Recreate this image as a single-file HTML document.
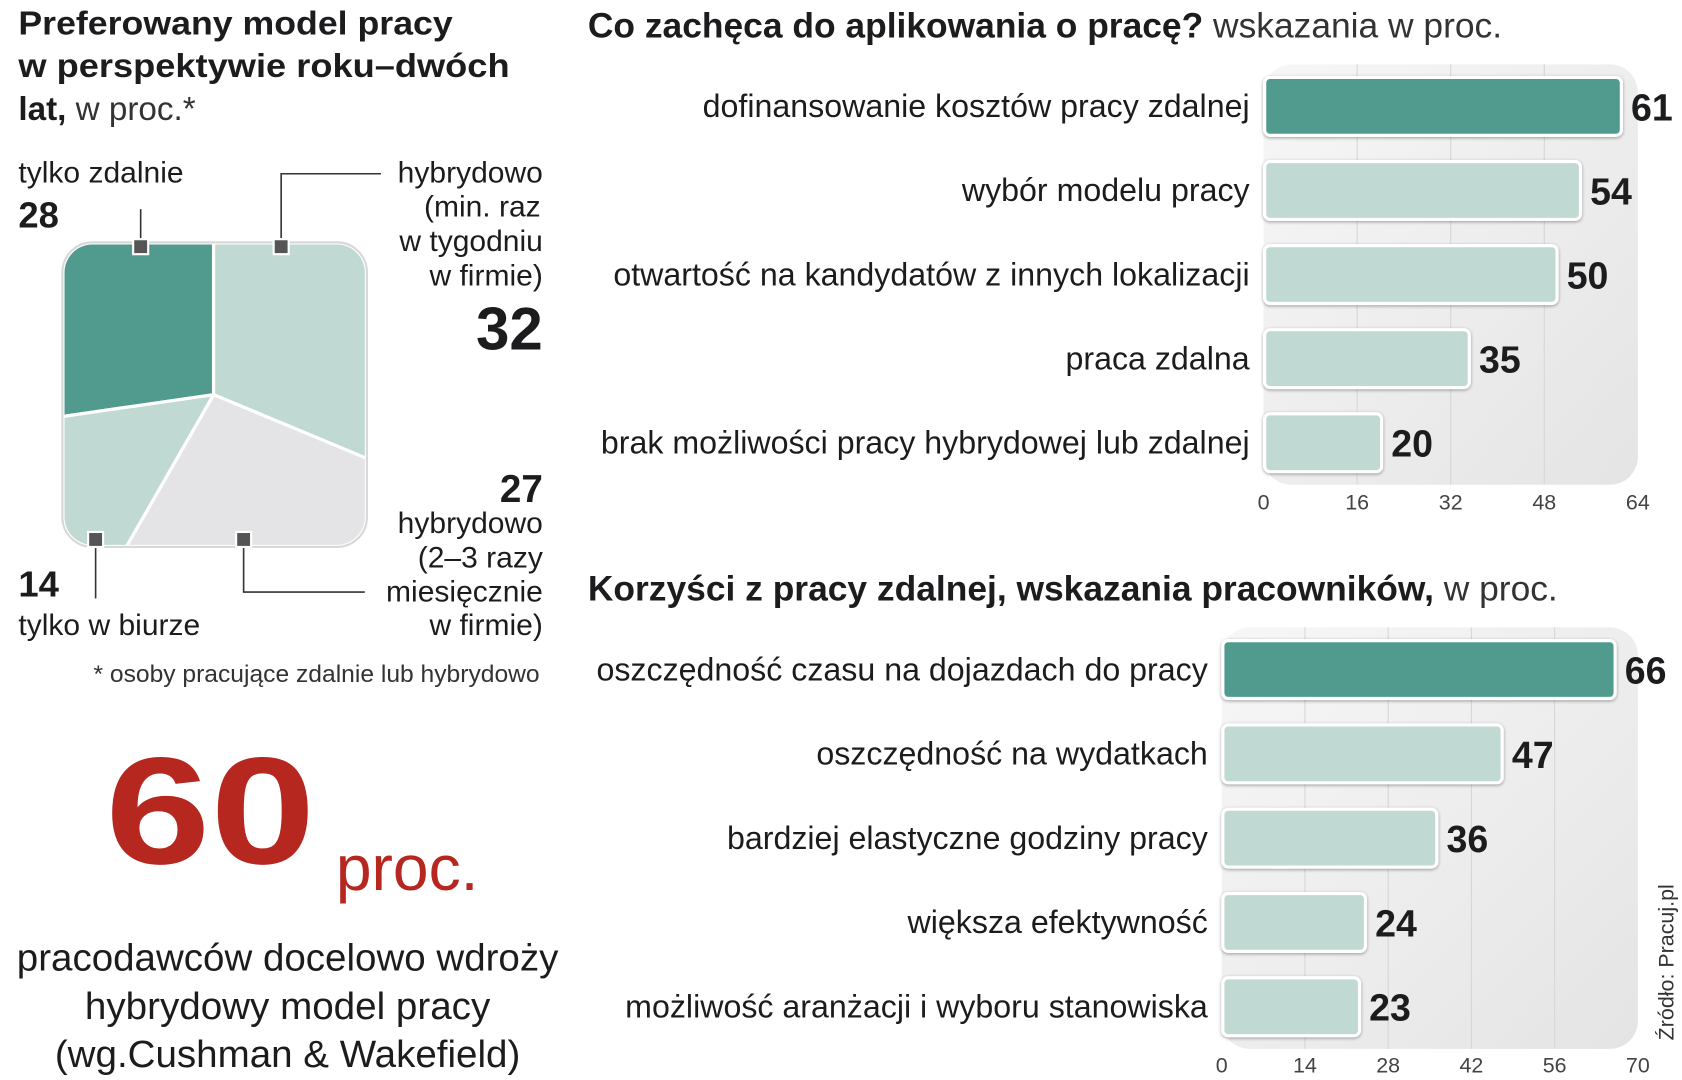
<!DOCTYPE html>
<html><head><meta charset="utf-8"><style>
html,body{margin:0;padding:0;background:#fff;}
svg{display:block;}
text{font-family:"Liberation Sans",sans-serif;fill:#1c1c1e;}
.b{font-weight:bold;}
.lt{fill:#333;}
.tick{font-size:20px;fill:#444;}
</style></head><body>
<svg id="root" width="1682" height="1080" viewBox="0 0 1568 1007" xmlns="http://www.w3.org/2000/svg">
<defs>
<linearGradient id="bg" x1="0" y1="0" x2="1" y2="1"><stop offset="0" stop-color="#f7f7f7"/><stop offset="1" stop-color="#e4e4e4"/></linearGradient>
<clipPath id="sq"><rect x="60" y="228" width="280" height="280" rx="26"/></clipPath>
</defs>

<g>
<text x="17" y="32" class="b" font-size="31" textLength="405" lengthAdjust="spacingAndGlyphs">Preferowany model pracy</text>
<text x="17" y="72" class="b" font-size="31" textLength="458" lengthAdjust="spacingAndGlyphs">w perspektywie roku–dwóch</text>
<text x="17" y="112" font-size="31"><tspan class="b">lat,</tspan><tspan class="lt"> w proc.*</tspan></text>
</g>

<g>
<rect x="58" y="226" width="284" height="284" rx="28" fill="#fff" stroke="#d8d8d8" stroke-width="2"/>
<g clip-path="url(#sq)" stroke="#fff" stroke-width="3" stroke-linejoin="round">
<polygon points="40,208 199,208 199,368 40,391" fill="#519b8e"/>
<polygon points="199,208 360,208 360,435 199,368" fill="#c0d9d2"/>
<polygon points="199,368 360,435 360,530 106,530" fill="#e4e4e6"/>
<polygon points="40,391 199,368 106,530 40,530" fill="#c0d9d2"/>
</g>
<g stroke="#333" stroke-width="1.5" fill="none">
<polyline points="131,230 131,195"/>
<polyline points="262,230 262,162 355,162"/>
<polyline points="89,503 89,558"/>
<polyline points="227,503 227,552 340,552"/>
</g>
<g fill="#555" stroke="#fff" stroke-width="2">
<rect x="124" y="223" width="14" height="14"/><rect x="255" y="223" width="14" height="14"/>
<rect x="82" y="496" width="14" height="14"/><rect x="220" y="496" width="14" height="14"/>
</g>
</g>
<g font-size="28">
<text x="17" y="170" font-size="28">tylko zdalnie</text>
<text x="17" y="212" class="b" font-size="34">28</text>
<g text-anchor="end">
<text x="506" y="170">hybrydowo</text>
<text x="504" y="202">(min. raz</text>
<text x="506" y="234">w tygodniu</text>
<text x="506" y="266">w firmie)</text>
<text x="506" y="326" class="b" font-size="56">32</text>
<text x="506" y="468" class="b" font-size="36">27</text>
<text x="506" y="497">hybrydowo</text>
<text x="506" y="529">(2–3 razy</text>
<text x="506" y="561">miesięcznie</text>
<text x="506" y="592">w firmie)</text>
<text x="503" y="636" font-size="22" class="lt" textLength="416" lengthAdjust="spacingAndGlyphs">* osoby pracujące zdalnie lub hybrydowo</text>
</g>
<text x="17" y="556" class="b" font-size="34">14</text>
<text x="17" y="592">tylko w biurze</text>
</g>

<g>
<text x="98" y="805" class="b" font-size="142" style="fill:#b5271f" textLength="196" lengthAdjust="spacingAndGlyphs">60</text>
<text x="313" y="830" font-size="60" style="fill:#b5271f" textLength="133" lengthAdjust="spacingAndGlyphs">proc.</text>
<g text-anchor="middle" font-size="35">
<text x="268" y="905" textLength="505" lengthAdjust="spacingAndGlyphs">pracodawców docelowo wdroży</text>
<text x="268" y="950" textLength="378" lengthAdjust="spacingAndGlyphs">hybrydowy model pracy</text>
<text x="268" y="995" textLength="434" lengthAdjust="spacingAndGlyphs">(wg.Cushman &amp; Wakefield)</text>
</g>
</g>

<text x="548" y="35" font-size="33"><tspan class="b">Co zachęca do aplikowania o pracę?</tspan><tspan class="lt"> wskazania w proc.</tspan></text>
<text x="548" y="560" font-size="33"><tspan class="b">Korzyści z pracy zdalnej, wskazania pracowników,</tspan><tspan class="lt"> w proc.</tspan></text>

<g id="c1"></g>
<g id="c2"></g>

<text transform="translate(1560,970) rotate(-90)" font-size="20" class="lt">Źródło: Pracuj.pl</text>
</svg>
<script>
const cats1 = ["dofinansowanie kosztów pracy zdalnej","wybór modelu pracy","otwartość na kandydatów z innych lokalizacji","praca zdalna","brak możliwości pracy hybrydowej lub zdalnej"];
const vals1 = [61,54,50,35,20];
const ticks1 = [0,16,32,48,64];
const cats2 = ["oszczędność czasu na dojazdach do pracy","oszczędność na wydatkach","bardziej elastyczne godziny pracy","większa efektywność","możliwość  aranżacji i wyboru stanowiska"];
const vals2 = [66,47,36,24,23];
const ticks2 = [0,14,28,42,56,70];

const NS="http://www.w3.org/2000/svg";
function mk(tag,attrs,parent){const e=document.createElementNS(NS,tag);for(const k in attrs)e.setAttribute(k,attrs[k]);parent.appendChild(e);return e;}
function drawChart(g,cats,vals,ticks,x0,x1,y0,y1,tickY,labelX){
  const max=ticks[ticks.length-1];
  const sx=v=>x0+(x1-x0)*v/max;
  const bg=mk('rect',{x:x0,y:y0,width:x1-x0,height:y1-y0,rx:26,fill:'url(#bg)'},g);
  
  
  ticks.forEach((t,i)=>{
    if(i>0&&i<ticks.length-1){
      const l=mk('line',{x1:sx(t),x2:sx(t),y1:y0,y2:y1,stroke:'#d6d6d6','stroke-width':1},g);
      
      
    }
    const tx=mk('text',{x:sx(t),y:tickY,'text-anchor':'middle',class:'tick'},g);
    tx.textContent=t;
    
    
  });
  const band=(y1-y0)/cats.length;
  cats.forEach((c,i)=>{
    const cy=y0+band*(i+0.5);
    const r=mk('rect',{x:x0+1,y:cy-27,width:sx(vals[i])-x0,height:54,rx:5,fill:i===0?'#519b8e':'#c0d9d2',stroke:'#fff','stroke-width':3},g);
    r.setAttribute('style','filter:drop-shadow(0 1px 1.5px rgba(0,0,0,0.35))');
    
    
    const v=mk('text',{x:sx(vals[i])+10,y:cy+13,class:'b','font-size':35},g);
    v.textContent=vals[i];
    
    
    const lb=mk('text',{x:labelX,y:cy+10,'text-anchor':'end','font-size':30},g);
    lb.textContent=c;
    
    
  });
}
drawChart(document.getElementById('c1'),cats1,vals1,ticks1,1178,1527,60,452,475,1165);
drawChart(document.getElementById('c2'),cats2,vals2,ticks2,1139,1527,585,978,1000,1126);
</script>
</body></html>
